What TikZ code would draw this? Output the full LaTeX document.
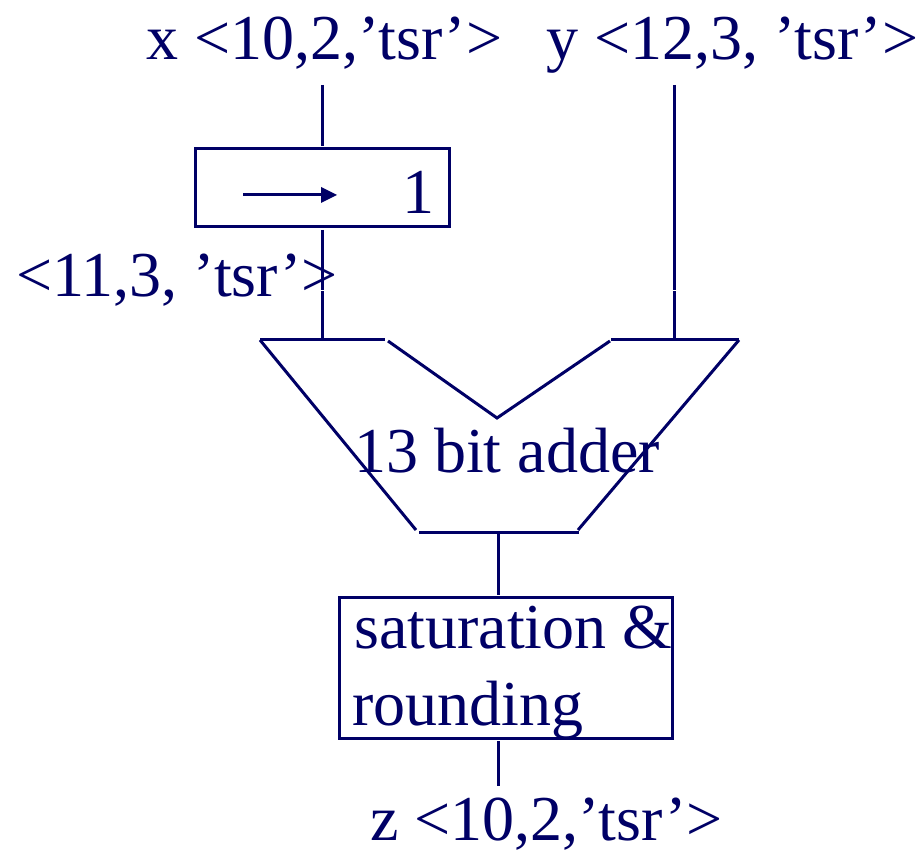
\documentclass[tikz,border=0pt]{standalone}
\usepackage{fontspec}
\setmainfont{Liberation Serif}
\definecolor{navy}{RGB}{0,0,102}
\tikzset{
  wire/.style={draw=navy,line width=3pt},
  lab/.style={text=navy,font=\fontsize{64}{70}\selectfont,inner sep=0pt,anchor=base west}
}
\begin{document}
\begin{tikzpicture}[x=1pt,y=-1pt]
\useasboundingbox (0,0) rectangle (922,850);
\node[lab] (xl) at (146,60) {x <10,2,’tsr’>};
\node[lab] (yl) at (546,60) {y <12,3, ’tsr’>};
\node[lab] (ml) at (16,297) {<11,3, ’tsr’>};
\node[lab] (add) at (354,473) {13 bit adder};
\node[lab] (s1) at (354,648) {saturation \&};
\node[lab] (s2) at (352,725) {rounding};
\node[lab] (zl) at (370,840) {z <10,2,’tsr’>};
\node[lab] (one) at (402,214) {1};
\coordinate (xt) at (322,85);
\coordinate (yt) at (674,85);
\coordinate (sb1) at (195,149);
\coordinate (sb2) at (449,227);
\draw[wire] (sb1) rectangle (sb2);
\draw[wire] (xt) -- (322,146);
\draw[wire] (322,230) -- (322,290);
\draw[wire] (322,291) -- (322,340);
\draw[wire] (yt) -- (674,290.5);
\draw[wire] (674,291.5) -- (674,340);
\coordinate (a1) at (243,195);
\coordinate (a2) at (337,195);
\draw[wire] (a1) -- (322,195);
\fill[navy] (a2) -- (321,187) -- (321,203) -- cycle;
\draw[wire] (260,340) -- (385,340);
\draw[wire] (388,341) -- (497,418) -- (610,341);
\draw[wire] (611,340) -- (739,340);
\draw[wire] (260,340) -- (416,530);
\draw[wire] (739,340) -- (578,530);
\draw[wire] (419,532) -- (579,532);
\draw[wire] (498,532) -- (498,595);
\draw[wire] (339,597) rectangle (672,738);
\draw[wire] (498,741) -- (498,786);
\end{tikzpicture}
\end{document}
